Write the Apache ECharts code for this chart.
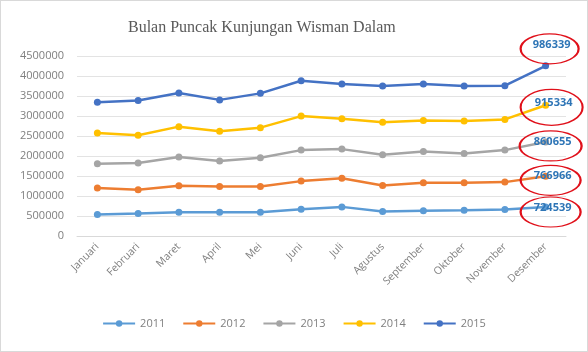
<!DOCTYPE html>
<html>
<head>
<meta charset="utf-8">
<script src="https://cdn.jsdelivr.net/npm/echarts@6/dist/echarts.min.js"></script>
<style>
html, body { margin: 0; padding: 0; background: #fff; }
#chart { width: 588px; height: 352px; box-sizing: border-box; border: 1px solid #d9d9d9; }
</style>
</head>
<body>
<div id="chart"></div>
<script>
// kategori bulan
var bulan = ['Januari', 'Februari', 'Maret', 'April', 'Mei', 'Juni', 'Juli',
    'Agustus', 'September', 'Oktober', 'November', 'Desember'];

var tahun = ['2011', '2012', '2013', '2014', '2015'];

// kunjungan wisman per bulan (bertumpuk)
var data2011 = [537000, 562000, 594000, 594000, 594000, 669000, 728000, 612000, 629000, 644000, 661000, 724539];
var data2012 = [662000, 595000, 662000, 644000, 644000, 703000, 718000, 651000, 701000, 686000, 686000, 766966];
var data2013 = [609000, 668000, 718000, 637000, 719000, 775000, 726000, 768000, 785000, 735000, 800000, 860655];
var data2014 = [768000, 694000, 760000, 743000, 752000, 850000, 760000, 810000, 775000, 808000, 768000, 915334];
var data2015 = [767000, 867000, 842000, 785000, 857000, 884000, 867000, 908000, 909000, 876000, 842000, 986339];

var semuaData = [data2011, data2012, data2013, data2014, data2015];

var warna = ['#5B9BD5', '#ED7D31', '#A5A5A5', '#FFC000', '#4472C4'];
// posisi lingkaran merah relatif ke titik Desember
var geserElips = [[5, 5], [5, 4], [5, 4], [6, 2], [4, -17]];
var ukuranElips = [[60, 30], [60, 30], [62, 30], [62, 36], [58, 30]];

var chart = echarts.init(document.getElementById('chart'));

var kumulatif = 0;
var series = semuaData.map(function (d, i) {
    kumulatif += d[d.length - 1];
    return {
        name: tahun[i],
        type: 'line',
        stack: 'total',
        data: d,
        symbol: 'circle',
        symbolSize: 7,
        lineStyle: { width: 2.5, color: warna[i] },
        itemStyle: { color: warna[i] },
        emphasis: { disabled: true },
        markPoint: {
            symbol: 'circle',
            symbolSize: ukuranElips[i],
            symbolOffset: geserElips[i],
            silent: true,
            animation: false,
            itemStyle: { color: 'rgba(0,0,0,0)', borderColor: '#e0101a', borderWidth: 1.6 },
            label: {
                show: true,
                position: 'inside',
                offset: [2, -4],
                formatter: '{c}',
                color: '#2E75B6',
                fontWeight: 'bold',
                fontSize: 11,
                fontFamily: 'Open Sans'
            },
            data: [{ coord: [bulan.length - 1, kumulatif], value: d[d.length - 1] }]
        }
    };
});

var option = {
    animation: false,
    color: warna,
    title: {
        text: 'Bulan Puncak Kunjungan Wisman Dalam',
        left: 122,
        top: 14,
        textStyle: {
            fontFamily: 'Liberation Serif',
            fontWeight: 'normal',
            fontSize: 16,
            color: '#595959'
        }
    },
    legend: {
        bottom: 17,
        left: 'center',
        itemWidth: 32,
        itemHeight: 8,
        itemGap: 17,
        textStyle: { color: '#7f7f7f', fontSize: 11, fontFamily: 'Open Sans' },
        data: tahun
    },
    grid: { left: 76, right: 21, top: 55, bottom: 115 },
    xAxis: {
        type: 'category',
        data: bulan,
        boundaryGap: true,
        axisLine: { lineStyle: { color: '#d9d9d9' } },
        axisTick: { show: false },
        axisLabel: {
            rotate: 45,
            margin: 9,
            interval: 0,
            color: '#7f7f7f',
            fontSize: 10.5,
            fontFamily: 'Open Sans'
        }
    },
    yAxis: {
        type: 'value',
        min: 0,
        max: 4500000,
        interval: 500000,
        axisLine: { show: false },
        axisTick: { show: false },
        splitLine: { lineStyle: { color: '#e3e3e3' } },
        axisLabel: {
            margin: 13,
            color: '#7f7f7f',
            fontSize: 11,
            fontFamily: 'Open Sans',
            formatter: function (v) { return String(v); }
        }
    },
    series: series
};

chart.setOption(option);
</script>
</body>
</html>
